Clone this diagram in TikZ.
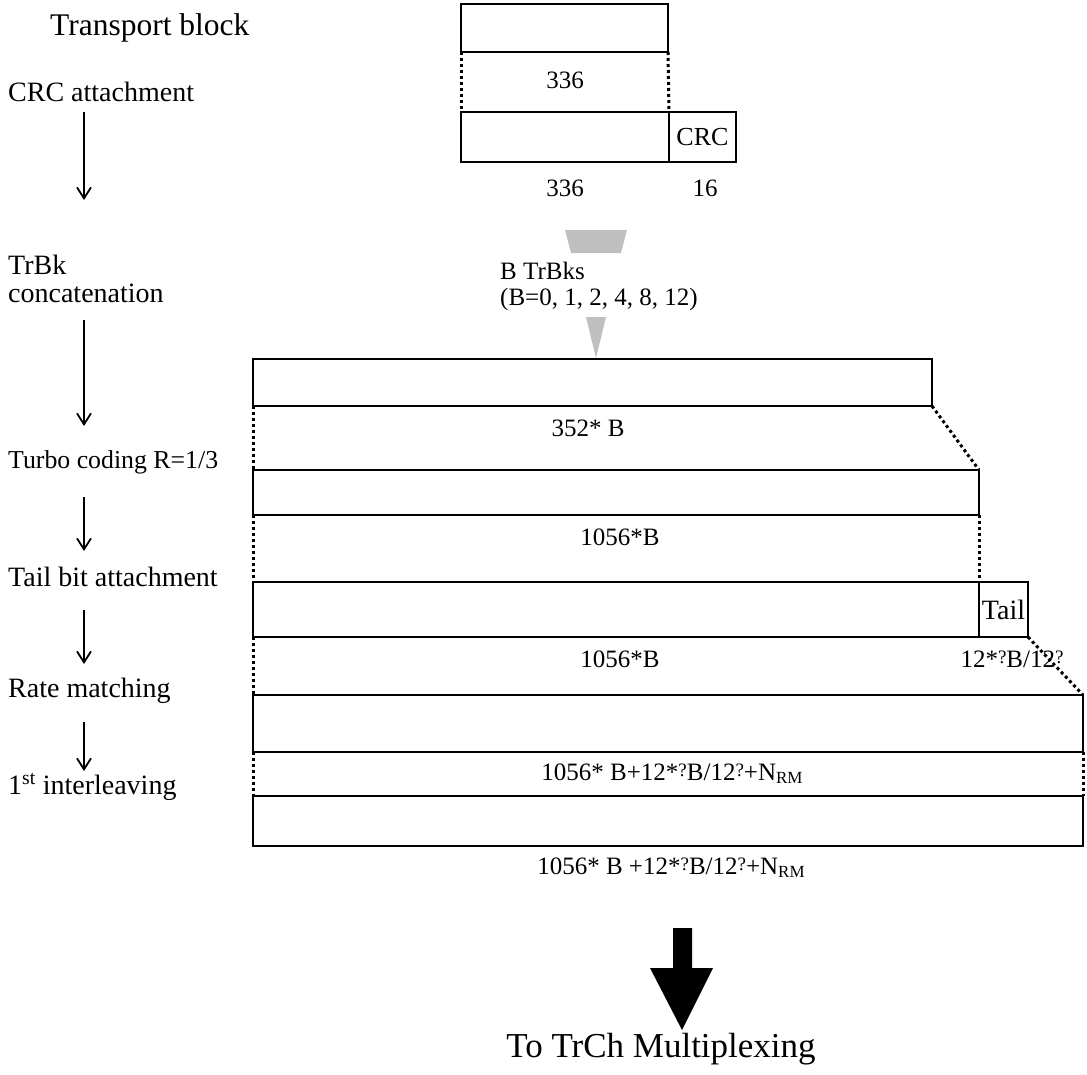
\documentclass[tikz,border=0pt]{standalone}
\usepackage{fontspec}
\setmainfont{Liberation Serif}
\usetikzlibrary{arrows.meta}
\newcommand\qm{\raisebox{0.35ex}{\fontsize{19}{19}\selectfont ?}}
\newcommand\nrm{N\raisebox{-0.25ex}{\fontsize{17}{17}\selectfont RM}}
\begin{document}
\begin{tikzpicture}[x=1pt,y=-1pt,
  blk/.style={draw=black,line width=2pt,inner sep=0,outer sep=0,anchor=north west},
  lbl/.style={inner sep=0,font=\fontsize{25}{30}\selectfont},
  steplbl/.style={inner sep=0,anchor=west,font=\fontsize{28}{32}\selectfont},
  big/.style={inner sep=0,font=\fontsize{31.5}{36}\selectfont},
  dotline/.style={line width=3pt,dash pattern=on 3pt off 3pt},
  flow/.style={line width=1.6pt,-{Straight Barb[length=11pt,width=14pt,line width=1.8pt]}},
  trap/.style={fill=black!25,draw=none}]
\useasboundingbox (0,0) rectangle (1087,1074);
% blocks
\node[blk,minimum width=207pt,minimum height=48pt] (r1) at (461,4) {};
\node[blk,minimum width=208pt,minimum height=50pt] (r2) at (461,112) {};
\node[blk,minimum width=67pt,minimum height=50pt,font=\fontsize{26}{30}\selectfont] (crc) at (669,112) {CRC};
\node[blk,minimum width=679pt,minimum height=47pt] (r3) at (253,359) {};
\node[blk,minimum width=726pt,minimum height=45pt] (r4) at (253,470) {};
\node[blk,minimum width=726pt,minimum height=55pt] (r5) at (253,582) {};
\node[blk,minimum width=49pt,minimum height=55pt,font=\fontsize{28}{32}\selectfont] (tail) at (979,582) {Tail};
\node[blk,minimum width=830pt,minimum height=57pt] (r6) at (253,695) {};
\node[blk,minimum width=830pt,minimum height=50pt] (r7) at (253,796) {};
% dotted guide lines
\draw[dotline] (r1.south west) -- (r2.north west);
\draw[dotline] (r1.south east) -- (r2.north east);
\draw[dotline] (r3.south west) -- (r4.north west);
\draw[dotline] (r3.south east) -- (r4.north east);
\draw[dotline] (r4.south west) -- (r5.north west);
\draw[dotline] (r4.south east) -- (r5.north east);
\draw[dotline] (r5.south west) -- (r6.north west);
\draw[dotline] (tail.south east) -- (r6.north east);
\draw[dotline] (r6.south west) -- (r7.north west);
\draw[dotline] (r6.south east) -- (r7.north east);
% block labels
\node[lbl] (l1) at (565,80) {336};
\node[lbl] (l2) at (565,188) {336};
\node[lbl] (l3) at (705,188) {16};
\node[lbl,anchor=west] (btr) at (500,271) {B TrBks};
\node[lbl,anchor=west] (bset) at (500,299) {(B=0, 1, 2, 4, 8, 12)};
\node[lbl] (l4) at (588,428) {352* B};
\node[lbl] (l5) at (620,537) {1056*B};
\node[lbl] (l6) at (620,659) {1056*B};
\node[lbl] (l7) at (1012,659) {12*\qm B/12\qm};
\node[lbl] (l8) at (672,774) {1056* B+12*\qm B/12\qm+\nrm};
\node[lbl] (l9) at (671,868) {1056* B +12*\qm B/12\qm+\nrm};
% gray concatenation marks
\fill[trap] (565,230) -- (627,230) -- (621,253) -- (571,253) -- cycle;
\fill[trap] (586,317) -- (606,317) -- (596,358) -- cycle;
% left step labels
\node[big,anchor=west] (tb) at (50,28) {Transport block};
\node[steplbl] (s1) at (8,92) {CRC attachment};
\node[steplbl] (s2a) at (8,265) {TrBk};
\node[steplbl] (s2b) at (8,293) {concatenation};
\node[steplbl,font=\fontsize{25.8}{30}\selectfont] (s3) at (8,462) {Turbo coding R=1/3};
\node[steplbl] (s4) at (8,577) {Tail bit attachment};
\node[steplbl] (s5) at (8,691) {Rate matching};
\node[steplbl] (s6) at (8,787) {1\textsuperscript{st} interleaving};
% left flow arrows
\coordinate (a1s) at (84,112); \coordinate (a1e) at (84,200);
\coordinate (a2s) at (84,320); \coordinate (a2e) at (84,426);
\coordinate (a3s) at (84,497); \coordinate (a3e) at (84,551);
\coordinate (a4s) at (84,610); \coordinate (a4e) at (84,664);
\coordinate (a5s) at (84,722); \coordinate (a5e) at (84,771);
\draw[flow] (a1s) -- (a1e);
\draw[flow] (a2s) -- (a2e);
\draw[flow] (a3s) -- (a3e);
\draw[flow] (a4s) -- (a4e);
\draw[flow] (a5s) -- (a5e);
% big output arrow
\fill[black] (673,928) -- (692,928) -- (692,968) -- (713,968) -- (682,1030) -- (650,968) -- (673,968) -- cycle;
\node[inner sep=0,font=\fontsize{35}{40}\selectfont] (out) at (661,1049) {To TrCh Multiplexing};
\end{tikzpicture}
\end{document}
